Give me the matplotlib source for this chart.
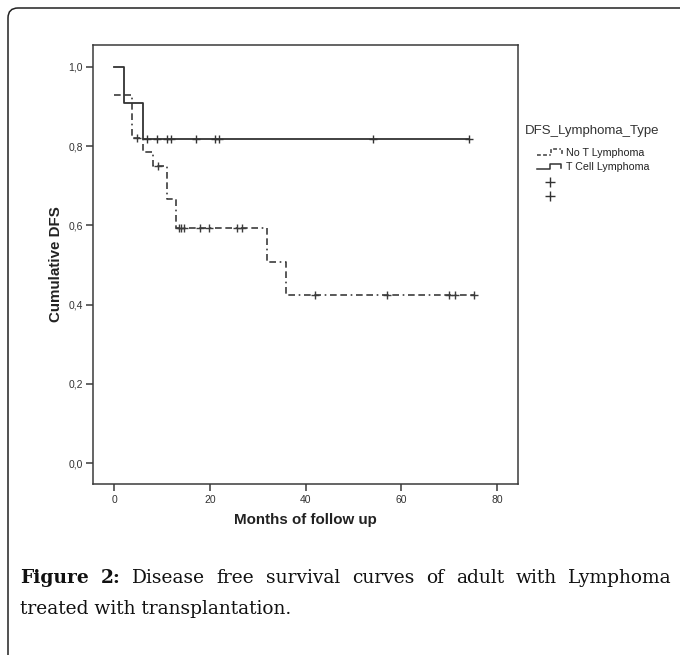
import numpy as np
import matplotlib
matplotlib.use("Agg")
import matplotlib.pyplot as plt
from matplotlib.lines import Line2D
from matplotlib.patches import FancyBboxPatch

# ---------------- data ----------------
x_ticks = [0, 20, 40, 60, 80]
y_ticks = [0.0, 0.2, 0.4, 0.6, 0.8, 1.0]
y_tick_labels = ["0,0", "0,2", "0,4", "0,6", "0,8", "1,0"]

group_names = ["No T Lymphoma", "T Cell Lymphoma"]

# No T Lymphoma: step times and survival levels
notT_times = [0.0, 3.8, 6.1, 8.0, 11.1, 13.0, 32.0, 35.9]
notT_surv = [0.929, 0.821, 0.786, 0.750, 0.667, 0.593, 0.508, 0.424]
notT_end = 75.1
notT_censored = [4.8, 9.2, 13.5, 14.0, 14.6, 17.9, 19.8, 25.6, 26.6,
                 42.0, 57.0, 69.9, 71.3, 75.1]

# T Cell Lymphoma
tcell_times = [0.0, 2.1, 6.1]
tcell_surv = [1.0, 0.909, 0.818]
tcell_end = 74.1
tcell_censored = [6.8, 8.9, 11.0, 11.9, 17.1, 21.1, 21.8, 54.1, 74.1]

x_label = "Months of follow up"
y_label = "Cumulative DFS"
legend_title = "DFS_Lymphoma_Type"
caption_line1 = [("Figure", True), ("2:", True), ("Disease", False), ("free", False),
                 ("survival", False), ("curves", False), ("of", False), ("adult", False),
                 ("with", False), ("Lymphoma", False)]
caption_line2 = "treated with transplantation."

# ---------------- figure ----------------
W, H = 680, 655
fig = plt.figure(figsize=(W / 100, H / 100), dpi=100)
fig.patch.set_facecolor("white")

def fx(px):
    return px / W

def fy(py):
    return 1 - py / H

SANS = ["Liberation Sans", "DejaVu Sans"]
SERIF = ["DejaVu Serif"]
INK = "#2b2b2b"

# outer rounded border (only top/left visible)
border = FancyBboxPatch((0.08, -1.0), 8.0, H / 100 - 0.08 + 1.0,
                        boxstyle="round,pad=0,rounding_size=0.1",
                        transform=fig.dpi_scale_trans, fill=False,
                        edgecolor="#222222", linewidth=1.1)
fig.add_artist(border)

# axes: frame from x=93..518, y=45..484 (pixels)
ax = fig.add_axes([fx(93), fy(484), fx(518) - fx(93), (484 - 45) / H])
ax.set_xlim(-4.45, 84.4)
ax.set_ylim(-0.0522, 1.0547)
for s in ax.spines.values():
    s.set_color("#3a3a3a")
    s.set_linewidth(1.1)

ax.set_xticks(x_ticks)
ax.set_xticklabels([str(v) for v in x_ticks])
ax.set_yticks(y_ticks)
ax.set_yticklabels(y_tick_labels)
ax.tick_params(axis="both", direction="out", length=5, width=1.1, color="#3a3a3a",
               labelsize=7.5, labelcolor="#333333")
ax.tick_params(axis="y", pad=2.2)
ax.tick_params(axis="x", pad=3.2)
for lab in ax.get_xticklabels() + ax.get_yticklabels():
    lab.set_family(SANS)


def draw_km(times, surv, end, censored, ls, color, lw, z):
    t = np.asarray(times + [end])
    s = np.asarray(surv + [surv[-1]])
    ax.step(t, s, where="post", linestyle=ls, color=color, linewidth=lw, zorder=z)
    idx = np.searchsorted(np.asarray(times), np.asarray(censored), side="right") - 1
    cy = np.asarray(surv)[idx]
    ax.plot(censored, cy, linestyle="none", marker="+", markersize=6,
            markeredgewidth=1.0, color=color, zorder=z + 0.5)


dash_pat = (0, (4.0, 2.2, 4.0, 2.2, 1.0, 2.2))
draw_km(notT_times, notT_surv, notT_end, notT_censored, dash_pat, "#3c3c3c", 1.2, 3)
draw_km(tcell_times, tcell_surv, tcell_end, tcell_censored, "-", "#333333", 1.3, 4)

# axis titles
fig.text(fx(305.5), fy(524), x_label, ha="center", va="baseline",
         fontsize=10.9, fontweight="bold", family=SANS, color="#222222")
fig.text(fx(56), fy(264.5), y_label, ha="center", va="center", rotation=90,
         fontsize=10.9, fontweight="bold", family=SANS, color="#222222")

# legend (manual, SPSS style)
fig.text(fx(525), fy(131), legend_title, ha="left", va="center",
         fontsize=9.5, family=SANS, color="#333333")
fig.text(fx(566), fy(152.7), group_names[0], ha="left", va="center",
         fontsize=7.7, family=SANS, color="#222222")
fig.text(fx(566), fy(166.7), group_names[1], ha="left", va="center",
         fontsize=7.7, family=SANS, color="#222222")
icon1_x = [537, 551, 551, 562, 562]
icon1_y = [155, 155, 149, 149, 155]
icon2_x = [537, 550, 550, 561, 561]
icon2_y = [169.5, 169.5, 163.5, 163.5, 168]
fig.add_artist(Line2D([fx(v) for v in icon1_x], [fy(v) for v in icon1_y],
                      transform=fig.transFigure, color="#3c3c3c", linewidth=1.1,
                      linestyle=(0, (2.5, 1.5, 2.5, 1.5, 1.0, 1.5))))
fig.add_artist(Line2D([fx(v) for v in icon2_x], [fy(v) for v in icon2_y],
                      transform=fig.transFigure, color="#333333", linewidth=1.1))
for yy in (181.7, 196.0):
    fig.add_artist(Line2D([fx(550)], [fy(yy)], transform=fig.transFigure,
                          linestyle="none", marker="+", markersize=7,
                          markeredgewidth=1.0, color="#333333"))

# caption, line 1 justified between x=20 and x=672
renderer = fig.canvas.get_renderer()
cap_size = 13.4
texts = []
for word, bold in caption_line1:
    t = fig.text(0, fy(583), word, ha="left", va="baseline", fontsize=cap_size,
                 family=SERIF, fontweight="bold" if bold else "normal", color="#111111")
    texts.append(t)
widths = [t.get_window_extent(renderer=renderer).width for t in texts]
left, right = 20, 672
gap = (right - left - sum(widths)) / (len(texts) - 1)
xpos = left
for t, w in zip(texts, widths):
    t.set_x(fx(xpos))
    xpos += w + gap

fig.text(fx(20), fy(614), caption_line2, ha="left", va="baseline", fontsize=cap_size,
         family=SERIF, color="#111111")

fig.savefig("out.png", dpi=100, facecolor="white")
